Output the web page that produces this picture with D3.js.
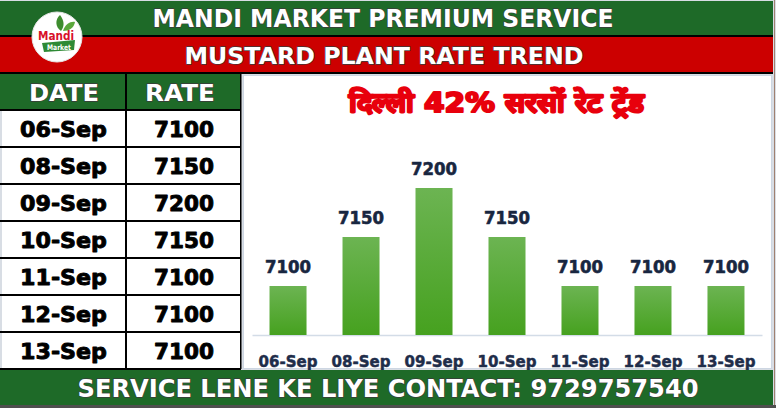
<!DOCTYPE html>
<html>
<head>
<meta charset="utf-8">
<script src="https://cdn.jsdelivr.net/npm/d3@7"></script>
<style>
  html, body { margin: 0; padding: 0; background: #ffffff; }
  svg { display: block; }
  text { font-family: "DejaVu Sans", "Liberation Sans", sans-serif; font-weight: bold; paint-order: stroke; stroke-linejoin: round; }
</style>
</head>
<body>
<script>
// ---- data ----
const dates = ["06-Sep", "08-Sep", "09-Sep", "10-Sep", "11-Sep", "12-Sep", "13-Sep"];
const rates = [7100, 7150, 7200, 7150, 7100, 7100, 7100];
const tableHeaders = ["DATE", "RATE"];
const mainTitle = "MANDI MARKET PREMIUM SERVICE";
const subTitle = "MUSTARD PLANT RATE TREND";
const chartTitle = "दिल्ली 42% सरसों रेट ट्रेंड";
const footerText = "SERVICE LENE KE LIYE CONTACT: 9729757540";
const logoWords = ["Mandi", "Market"];

const W = 776, H = 408;
const GREEN = "#1e6a28", RED = "#cc0000";

const svg = d3.select("body").append("svg").attr("width", W).attr("height", H);

const defs = svg.append("defs");
const grad = defs.append("linearGradient").attr("id", "barGrad")
  .attr("x1", 0).attr("y1", 0).attr("x2", 0).attr("y2", 1);
grad.append("stop").attr("offset", "0%").attr("stop-color", "#6cb452");
grad.append("stop").attr("offset", "100%").attr("stop-color", "#46a11f");

// background / frame
svg.append("rect").attr("width", W).attr("height", H).attr("fill", "#d8dde4");
svg.append("rect").attr("x", 0).attr("y", 405).attr("width", W).attr("height", 3).attr("fill", "#4f4f4f");
svg.append("rect").attr("x", 774).attr("y", 0).attr("width", 1).attr("height", 405).attr("fill", "#a08070");

// header bands
svg.append("rect").attr("x", 0).attr("y", 1).attr("width", 773).attr("height", 34).attr("fill", GREEN);
svg.append("rect").attr("x", 0).attr("y", 35).attr("width", 773).attr("height", 2).attr("fill", "#000");
svg.append("rect").attr("x", 0).attr("y", 37).attr("width", 773).attr("height", 35).attr("fill", RED);
svg.append("rect").attr("x", 0).attr("y", 72).attr("width", 773).attr("height", 2).attr("fill", "#000");

function whiteHead(sel) {
  return sel.attr("fill", "#fff").attr("stroke", "#3a3a3a").attr("stroke-width", 1.3);
}

whiteHead(svg.append("text").attr("x", 383).attr("y", 27).attr("text-anchor", "middle")
  .attr("font-size", 24)
  .attr("textLength", 461).attr("lengthAdjust", "spacingAndGlyphs").text(mainTitle));
whiteHead(svg.append("text").attr("x", 384).attr("y", 64).attr("text-anchor", "middle")
  .attr("font-size", 23.5)
  .attr("textLength", 399).attr("lengthAdjust", "spacingAndGlyphs").text(subTitle));

// logo
const logo = svg.append("g").attr("transform", "translate(57,37)");
logo.append("circle").attr("r", 25).attr("fill", "#fff").attr("stroke", "#e6e6e6").attr("stroke-width", 1);
logo.append("path").attr("d", "M4,-6 C-2,-10 -2,-18 3,-22 C7,-17 8,-11 4,-6 Z").attr("fill", "#3d8c2e");
logo.append("path").attr("d", "M6,-6 C8,-13 14,-16 18,-15 C17,-9 12,-6 6,-6 Z").attr("fill", "#5aa83c");
logo.append("text").attr("x", -1).attr("y", 3).attr("text-anchor", "middle")
  .attr("font-size", 13).attr("fill", "#d8102a").attr("font-family", "Liberation Sans")
  .attr("textLength", 36).attr("lengthAdjust", "spacingAndGlyphs").text(logoWords[0]);
logo.append("path").attr("d", "M-15,6 L18,3 L17,13 L-13,15 Z").attr("fill", "#2e8a35");
logo.append("text").attr("x", 2).attr("y", 12.5).attr("text-anchor", "middle")
  .attr("font-size", 7.5).attr("fill", "#fff").attr("font-family", "Liberation Sans")
  .attr("textLength", 24).attr("lengthAdjust", "spacingAndGlyphs").text(logoWords[1]);

// table
svg.append("rect").attr("x", 0).attr("y", 74).attr("width", 241).attr("height", 36).attr("fill", GREEN);
whiteHead(svg.append("text").attr("x", 64).attr("y", 101).attr("text-anchor", "middle")
  .attr("font-size", 23).attr("textLength", 70).attr("lengthAdjust", "spacingAndGlyphs")
  .text(tableHeaders[0]));
whiteHead(svg.append("text").attr("x", 180).attr("y", 101).attr("text-anchor", "middle")
  .attr("font-size", 23).attr("textLength", 70).attr("lengthAdjust", "spacingAndGlyphs")
  .text(tableHeaders[1]));

const rowY = d3.scaleBand().domain(dates).range([110, 369]);
svg.append("rect").attr("x", 2).attr("y", 110).attr("width", 239).attr("height", 259).attr("fill", "#fff");
const rows = svg.append("g").selectAll("g").data(dates).join("g")
  .attr("transform", d => `translate(0,${rowY(d)})`);
rows.append("text").attr("x", 63.5).attr("y", 27).attr("text-anchor", "middle")
  .attr("font-size", 22).attr("fill", "#000").attr("stroke", "#000").attr("stroke-width", 0.9)
  .attr("textLength", 87).attr("lengthAdjust", "spacingAndGlyphs")
  .text(d => d);
rows.append("text").attr("x", 184).attr("y", 27).attr("text-anchor", "middle")
  .attr("font-size", 22).attr("fill", "#000").attr("stroke", "#000").attr("stroke-width", 0.9)
  .attr("textLength", 60).attr("lengthAdjust", "spacingAndGlyphs")
  .text((d, i) => rates[i]);
// grid lines
const lineYs = dates.map(d => rowY(d)).concat([369]);
svg.append("g").selectAll("rect").data(lineYs).join("rect")
  .attr("x", 0).attr("y", d => d - 1).attr("width", 241).attr("height", 2).attr("fill", "#000");
svg.append("rect").attr("x", 125).attr("y", 74).attr("width", 2).attr("height", 295).attr("fill", "#000");
svg.append("rect").attr("x", 240).attr("y", 74).attr("width", 1.5).attr("height", 295).attr("fill", "#000");

// chart panel
svg.append("rect").attr("x", 243.5).attr("y", 75.5).attr("width", 528).attr("height", 293)
  .attr("fill", "#fff").attr("stroke", "#cdd6e2").attr("stroke-width", 1);

svg.append("text").attr("x", 496).attr("y", 112).attr("text-anchor", "middle")
  .attr("font-family", "'Noto Sans Devanagari', 'Noto Sans', 'Lohit Devanagari', sans-serif")
  .attr("font-size", 27).attr("font-weight", 900).attr("fill", "#e8000c")
  .attr("stroke", "#e8000c").attr("stroke-width", 2.2)
  .attr("textLength", 294).attr("lengthAdjust", "spacingAndGlyphs")
  .text(chartTitle);

const x = d3.scaleBand().domain(dates).range([252, 762]).paddingInner(0.493).paddingOuter(0.24);
const y = d3.scaleLinear().domain([7050, 7250]).range([335, 139]);

const xAxis = svg.append("g").attr("transform", "translate(0,335)")
  .call(d3.axisBottom(x).tickSize(0).tickSizeOuter(0));
xAxis.select(".domain").attr("stroke", "#d3dce7").attr("stroke-width", 1.5);
xAxis.selectAll(".tick text").attr("y", 32).attr("dy", 0)
  .attr("font-size", 16.5).attr("font-family", "DejaVu Sans").attr("font-weight", "bold")
  .attr("fill", "#1f2d4a").attr("stroke", "#1f2d4a").attr("stroke-width", 0.5)
  .attr("textLength", 59).attr("lengthAdjust", "spacingAndGlyphs");

svg.append("g").selectAll("rect").data(dates).join("rect")
  .attr("x", d => x(d)).attr("width", x.bandwidth())
  .attr("y", (d, i) => y(rates[i])).attr("height", (d, i) => 335 - y(rates[i]))
  .attr("fill", "url(#barGrad)");

svg.append("g").selectAll("text").data(dates).join("text")
  .attr("x", d => x(d) + x.bandwidth() / 2)
  .attr("y", (d, i) => y(rates[i]) - 13)
  .attr("text-anchor", "middle").attr("font-size", 17.5).attr("fill", "#182640")
  .attr("stroke", "#182640").attr("stroke-width", 0.6)
  .attr("textLength", 46).attr("lengthAdjust", "spacingAndGlyphs")
  .text((d, i) => rates[i]);

// footer
svg.append("rect").attr("x", 0).attr("y", 370).attr("width", 773).attr("height", 35).attr("fill", GREEN);
whiteHead(svg.append("text").attr("x", 388).attr("y", 397).attr("text-anchor", "middle")
  .attr("font-size", 24)
  .attr("textLength", 621).attr("lengthAdjust", "spacingAndGlyphs").text(footerText));
</script>
</body>
</html>
